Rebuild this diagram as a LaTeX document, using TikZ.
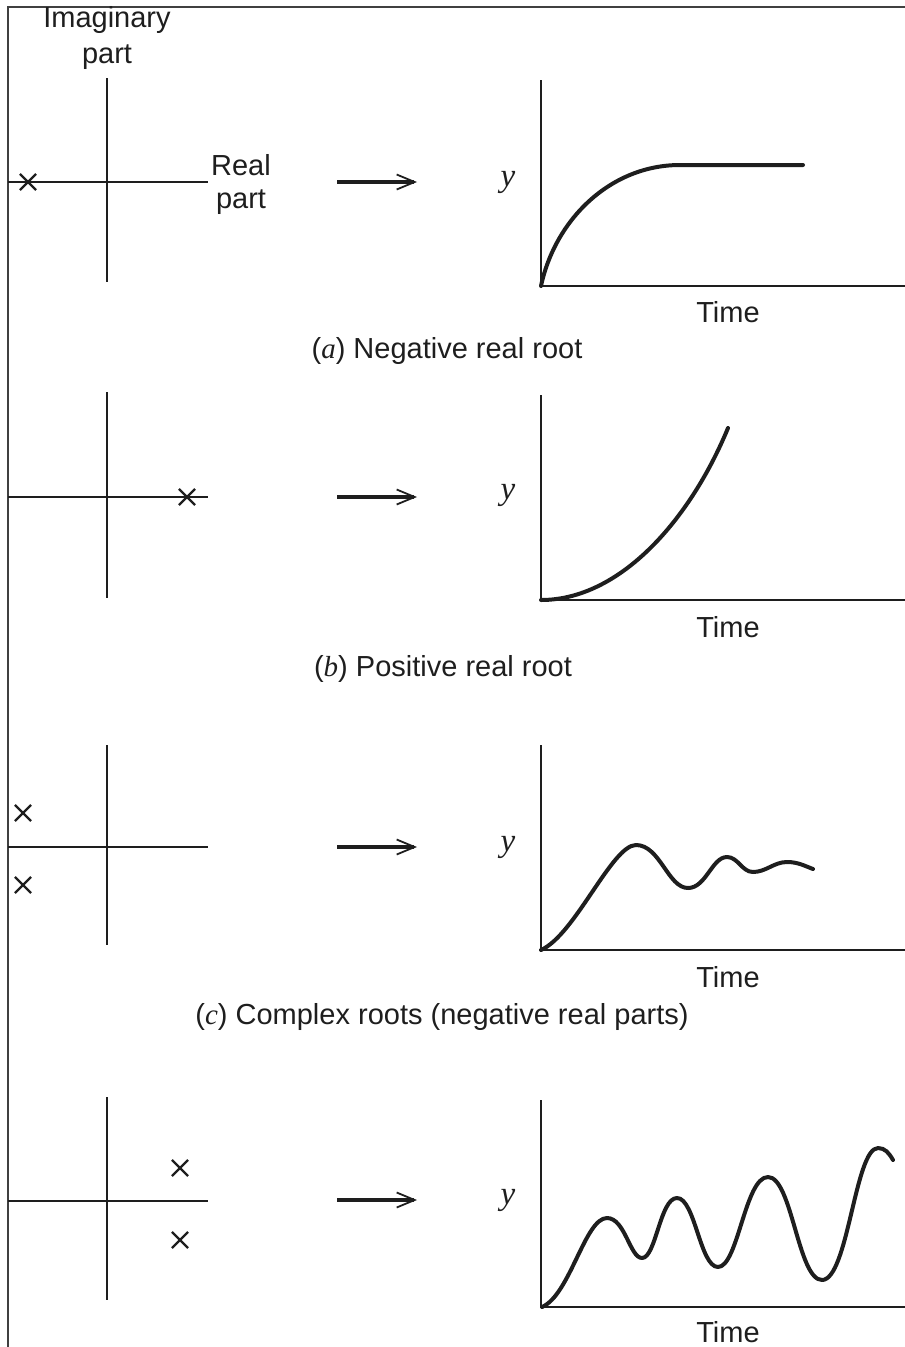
\documentclass[tikz,border=0pt]{standalone}
\usepackage{fontspec}
\setmainfont{Liberation Sans}
\newfontfamily\timesit[ItalicFont={Liberation Serif Italic}]{Liberation Serif}
\newcommand{\vit}[1]{{\timesit\itshape #1}}
\usetikzlibrary{arrows.meta,shapes.misc}
\definecolor{ink}{HTML}{1E1E1E}
\tikzset{
  frame/.style={line width=2pt, draw=ink!85},
  axis/.style={line width=2pt, draw=ink},
  curve/.style={line width=4pt, draw=ink, line cap=round, line join=round},
  pole/.style={cross out, draw=ink, line width=2.2pt, minimum size=14pt, inner sep=0pt},
  lbl/.style={font=\fontsize{29}{33}\selectfont, text=ink, inner sep=0pt, anchor=base},
  yl/.style={font=\fontsize{33}{36}\selectfont, text=ink, inner sep=0pt},
  flow/.style={line width=3.5pt, draw=ink, -{Straight Barb[length=18pt,width=15pt,line width=1.8pt]}}
}
\begin{document}
\begin{tikzpicture}[x=1pt,y=-1pt]
\useasboundingbox (0,0) rectangle (905,1347);
\draw[frame] (8,1347) -- (8,7) -- (905,7);

% ---------- panel (a)
\draw[axis] (107,78) -- (107,282);
\draw[axis] (8,182) -- (208,182);
\node[pole] (pa) at (28,182) {};
\node[lbl] (im1) at (107,27) {Imaginary};
\node[lbl] (im2) at (107,63) {part};
\node[lbl] (re1) at (241,175) {Real};
\node[lbl] (re2) at (241,208) {part};
\coordinate (aa1) at (337,182); \coordinate (aa2) at (417,182);
\draw[flow] (aa1) -- (aa2);
\draw[axis] (541,80) -- (541,286) -- (905,286);
\node[yl] (ya) at (508,182) {\vit{y}};
\draw[curve] (541,286) .. controls (555,220) and (610,165) .. (680,165) -- (803,165);
\node[lbl] (ta) at (728,322) {Time};
\node[lbl] (ca) at (447,358) {(\vit{a}) Negative real root};

% ---------- panel (b)
\draw[axis] (107,392) -- (107,598);
\draw[axis] (8,497) -- (208,497);
\node[pole] (pb) at (187,497) {};
\coordinate (ab1) at (337,497); \coordinate (ab2) at (417,497);
\draw[flow] (ab1) -- (ab2);
\draw[axis] (541,395) -- (541,600) -- (905,600);
\node[yl] (yb) at (508,495) {\vit{y}};
\draw[curve] (541,600) .. controls (620,600) and (690,520) .. (728,428);
\node[lbl] (tb) at (728,637) {Time};
\node[lbl] (cb) at (443,676) {(\vit{b}) Positive real root};

% ---------- panel (c)
\draw[axis] (107,745) -- (107,945);
\draw[axis] (8,847) -- (208,847);
\node[pole] (pc1) at (23,813) {};
\node[pole] (pc2) at (23,885) {};
\coordinate (ac1) at (337,847); \coordinate (ac2) at (417,847);
\draw[flow] (ac1) -- (ac2);
\draw[axis] (541,745) -- (541,950) -- (905,950);
\node[yl] (yc) at (508,847) {\vit{y}};
\draw[curve] (541,950) .. controls (575,935) and (612,845) .. (636,845)
  .. controls (660,845) and (668,888) .. (688,888)
  .. controls (706,888) and (712,857) .. (727,857)
  .. controls (738,857) and (742,872) .. (753,872)
  .. controls (766,872) and (774,862) .. (787,862)
  .. controls (798,862) and (805,866) .. (813,869);
\node[lbl] (tc) at (728,987) {Time};
\node[lbl] (cc) at (442,1024) {(\vit{c}) Complex roots (negative real parts)};

% ---------- panel (d)
\draw[axis] (107,1097) -- (107,1300);
\draw[axis] (8,1201) -- (208,1201);
\node[pole] (pd1) at (180,1168) {};
\node[pole] (pd2) at (180,1240) {};
\coordinate (ad1) at (337,1200); \coordinate (ad2) at (417,1200);
\draw[flow] (ad1) -- (ad2);
\draw[axis] (541,1100) -- (541,1307) -- (905,1307);
\node[yl] (yd) at (508,1200) {\vit{y}};
\draw[curve] (542,1307) .. controls (570,1295) and (585,1218) .. (607,1218)
  .. controls (625,1218) and (630,1258) .. (642,1258)
  .. controls (656,1258) and (660,1198) .. (677,1198)
  .. controls (695,1198) and (700,1267) .. (718,1267)
  .. controls (738,1267) and (745,1177) .. (768,1177)
  .. controls (792,1177) and (798,1280) .. (822,1280)
  .. controls (848,1280) and (855,1148) .. (878,1148)
  .. controls (885,1148) and (889,1153) .. (893,1160);
\node[lbl] (td) at (728,1342) {Time};
\end{tikzpicture}
\end{document}
